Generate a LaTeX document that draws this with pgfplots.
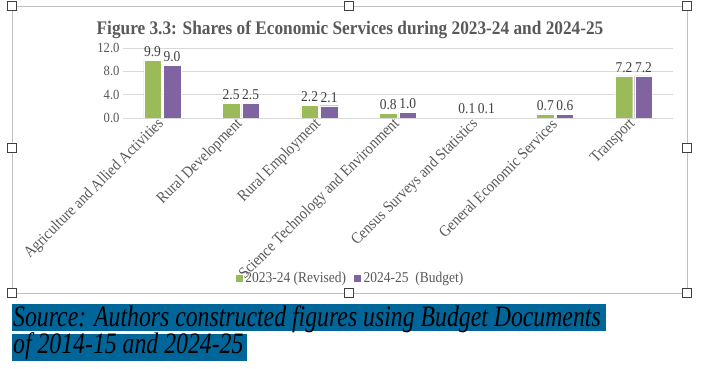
\documentclass[border=0pt]{standalone}
\usepackage{pgfplots}
\pgfplotsset{compat=1.18}
\usepackage{fontspec}
\setmainfont{Liberation Serif}[FakeStretch=0.9]
\newfontfamily\srcfont{Liberation Serif}[FakeStretch=0.8]
\definecolor{cgreen}{HTML}{9BBB59}
\definecolor{cpurple}{HTML}{8064A2}
\definecolor{txtgray}{HTML}{595959}
\definecolor{lblgray}{HTML}{404040}
\definecolor{gridgray}{HTML}{D9D9D9}
\definecolor{framegray}{HTML}{BFBFBF}
\definecolor{srcblue}{HTML}{00669A}
\pgfplotstableread{
x y23 y24
0 9.9 9.0
1 2.5 2.5
2 2.2 2.1
3 0.8 1.0
4 0.1 0.1
5 0.7 0.6
6 7.2 7.2
}\datatable
\begin{document}
\begin{tikzpicture}
\useasboundingbox (0pt,0pt) rectangle (705pt,369pt);
\fill[white] (0pt,0pt) rectangle (705pt,369pt);
\draw[framegray, line width=0.8pt] (12pt,363pt) rectangle (687pt,76pt);
\node[font=\fontsize{19.2}{21}\selectfont\bfseries, text=txtgray] at (350pt,339pt) {Figure 3.3: Shares of Economic Services during 2023-24 and 2024-25};
\begin{axis}[
  at={(123pt,251pt)}, anchor=south west,
  scale only axis, width=550pt, height=70pt,
  xmin=-0.5, xmax=6.5, ymin=0, ymax=12,
  enlargelimits=false,
  ybar=2pt, bar width=17.5pt,
  axis line style={draw=none},
  major tick length=0pt,
  ytick={0,4,8,12},
  ymajorgrids, grid style={gridgray, line width=0.8pt},
  xtick={0,...,6},
  xticklabels={Agriculture and Allied Activities, Rural Development, Rural Employment, Science Technology and Environment, Census Surveys and Statistics, General Economic Services, Transport},
  x tick label style={rotate=45, anchor=east, font=\fontsize{16}{17}\selectfont, text=txtgray, inner sep=1pt},
  xticklabel shift=3pt,
  y tick label style={font=\fontsize{14}{15}\selectfont, text=txtgray, /pgf/number format/.cd, fixed, fixed zerofill, precision=1, assume math mode=true},
  nodes near coords,
  nodes near coords style={font=\fontsize{15}{16}\selectfont, text=lblgray, /pgf/number format/.cd, fixed, fixed zerofill, precision=1, assume math mode=true},
  legend style={at={(0.413,-2.29)}, anchor=center, draw=none, fill=none, legend columns=2, font=\fontsize{15}{16}\selectfont, text=txtgray, /tikz/every even column/.append style={column sep=5pt}},
  legend image code/.code={\fill[#1] (0pt,-4pt) rectangle (8pt,4pt);},
]
\addplot[fill=cgreen, draw=white, line width=0.4pt] table[x=x, y=y23] {\datatable};
\addplot[fill=cpurple, draw=white, line width=0.4pt] table[x=x, y=y24] {\datatable};
\legend{2023-24 (Revised), 2024-25\ \ (Budget)}
\end{axis}
% selection handles
\foreach \p in {(12pt,363pt),(349pt,363pt),(687pt,363pt),(12pt,221pt),(687pt,221pt),(12pt,76pt),(349pt,76pt),(687pt,76pt)}{
  \draw[fill=white, draw=black!75, line width=0.8pt] \p ++(-4.5pt,-4.5pt) rectangle ++(9pt,9pt);
}
% source
\fill[srcblue] (12pt,38pt) rectangle (606pt,65pt);
\fill[srcblue] (12pt,8pt) rectangle (247pt,35pt);
\node[anchor=base west, inner sep=0pt, font=\srcfont\fontsize{29.7}{31}\selectfont\itshape] at (13pt,42pt) {Source: Authors constructed figures using Budget Documents};
\node[anchor=base west, inner sep=0pt, font=\srcfont\fontsize{29.7}{31}\selectfont\itshape] at (13pt,15pt) {of 2014-15 and 2024-25};
\end{tikzpicture}
\end{document}
